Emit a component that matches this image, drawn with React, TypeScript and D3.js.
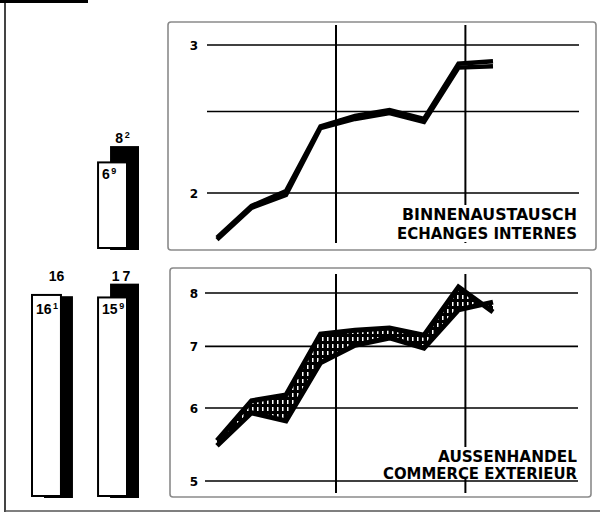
import * as d3 from "d3";
import React, { useRef, useEffect } from "react";

// quarters along the x axis (index), and where the year separators fall
const periods = [0, 1, 2, 3, 4, 5, 6, 7, 8];
const yearBreaks = [3.45, 7.2];

// Binnenaustausch / échanges internes (two close series)
const internalHigh = [1.77, 1.93, 2.01, 2.4, 2.47, 2.51, 2.45, 2.85, 2.87];
const internalLow = [1.76, 1.92, 1.99, 2.39, 2.45, 2.49, 2.43, 2.82, 2.83];
const internalTicks = [2, 2.5, 3];
const internalTickLabels = ["2", "", "3"];

// Aussenhandel / commerce extérieur (two series, hatched band)
const externalA = [5.53, 6.11, 6.2, 7.22, 7.29, 7.33, 7.2, 8.12, 7.63];
const externalB = [5.46, 5.93, 5.81, 6.72, 7.02, 7.15, 6.97, 7.67, 7.82];
const externalTicks = [5, 6, 7, 8];
const externalTickLabels = ["5", "6", "7", "8"];

// bar columns on the left
const barColumns = ["I", "II"];
const internalWhite = [null, 6.9];
const internalBlack = [null, 8.2];
const externalWhite = [16.1, 15.9];
const externalBlack = [16, 17];

const font = "'DejaVu Sans', sans-serif";
const barFont = "'Liberation Sans', Arial, sans-serif";

function App() {
    const ref = useRef<SVGSVGElement>(null);

    useEffect(() => {
        const svg = d3.select(ref.current);
        svg.selectAll("*").remove();

        const defs = svg.append("defs");
        const pat = defs.append("pattern")
            .attr("id", "hatch")
            .attr("patternUnits", "userSpaceOnUse")
            .attr("width", 5)
            .attr("height", 7);
        pat.append("rect").attr("width", 5).attr("height", 7).attr("fill", "#000");
        pat.append("rect").attr("x", 2).attr("y", 1).attr("width", 1.5).attr("height", 4).attr("fill", "#fff");

        // outer frame bits
        svg.append("line").attr("x1", 5).attr("x2", 5).attr("y1", 0).attr("y2", 512)
            .attr("stroke", "#444").attr("stroke-width", 2);
        svg.append("line").attr("x1", 5).attr("x2", 600).attr("y1", 511).attr("y2", 511)
            .attr("stroke", "#555").attr("stroke-width", 1.5);
        svg.append("line").attr("x1", 0).attr("x2", 88).attr("y1", 1.5).attr("y2", 1.5)
            .attr("stroke", "#000").attr("stroke-width", 3);

        const x = d3.scaleLinear().domain([0, 8]).range([217, 493]);

        const panels = [
            {
                box: [168, 22, 596, 250],
                y: d3.scaleLog().domain([2, 3]).range([193, 45]),
                ticks: internalTicks,
                tickLabels: internalTickLabels,
                grid: [207, 579],
                vlines: [25, 243],
                hi: internalHigh,
                lo: internalLow,
                fill: "#fff",
                width: 4.5,
                titles: [["BINNENAUSTAUSCH", 220, 175], ["ECHANGES INTERNES", 239, 180]],
                titleBg: [395, 205, 185, 37],
            },
            {
                box: [170, 268, 591, 497],
                y: d3.scaleLog().domain([5, 8]).range([481, 293]),
                ticks: externalTicks,
                tickLabels: externalTickLabels,
                grid: [205, 578],
                vlines: [274, 493],
                hi: externalA,
                lo: externalB,
                fill: "url(#hatch)",
                width: 5,
                titles: [["AUSSENHANDEL", 462, 139], ["COMMERCE EXTERIEUR", 478.5, 194]],
                titleBg: [380, 447, 200, 31.5],
            },
        ];

        panels.forEach(p => {
            const g = svg.append("g");
            const [x0, y0, x1, y1] = p.box;
            g.append("rect")
                .attr("x", x0).attr("y", y0)
                .attr("width", x1 - x0).attr("height", y1 - y0)
                .attr("rx", 3)
                .attr("fill", "#fff")
                .attr("stroke", "#8a8a8a")
                .attr("stroke-width", 1.6);

            g.selectAll(".grid")
                .data(p.ticks)
                .enter().append("line")
                .attr("x1", p.grid[0]).attr("x2", p.grid[1])
                .attr("y1", d => p.y(d)).attr("y2", d => p.y(d))
                .attr("stroke", "#000").attr("stroke-width", 1.6);

            g.selectAll(".tick")
                .data(p.ticks)
                .enter().append("text")
                .attr("x", 198)
                .attr("y", d => p.y(d) + 4.5)
                .attr("text-anchor", "end")
                .attr("font-family", font)
                .attr("font-weight", "bold")
                .attr("font-size", 12)
                .text((d, i) => p.tickLabels[i]);

            g.selectAll(".year")
                .data(yearBreaks)
                .enter().append("line")
                .attr("x1", d => x(d)).attr("x2", d => x(d))
                .attr("y1", p.vlines[0]).attr("y2", p.vlines[1])
                .attr("stroke", "#000").attr("stroke-width", 2);

            const [bx, by, bw, bh] = p.titleBg;
            g.append("rect").attr("x", bx).attr("y", by).attr("width", bw).attr("height", bh)
                .attr("fill", "#fff");

            p.titles.forEach(([t, yy, len]) => {
                g.append("text")
                    .attr("x", 577)
                    .attr("y", yy as number)
                    .attr("text-anchor", "end")
                    .attr("font-family", font)
                    .attr("font-weight", "bold")
                    .attr("font-size", 15)
                    .attr("textLength", len as number)
                    .attr("lengthAdjust", "spacingAndGlyphs")
                    .text(t as string);
            });

            const area = d3.area<number>()
                .x((_, i) => x(periods[i]))
                .y0((_, i) => p.y(p.lo[i]))
                .y1(d => p.y(d));
            g.append("path")
                .attr("d", area(p.hi))
                .attr("fill", p.fill);

            const line = d3.line<number>()
                .x((_, i) => x(periods[i]))
                .y(d => p.y(d));
            [p.hi, p.lo].forEach(s => {
                g.append("path")
                    .attr("d", line(s))
                    .attr("fill", "none")
                    .attr("stroke", "#000")
                    .attr("stroke-width", p.width)
                    .attr("stroke-linejoin", "miter")
                    .attr("stroke-miterlimit", 3)
                    .attr("stroke-linecap", "butt");
            });
        });

        // bars
        const col = d3.scaleBand().domain(barColumns).range([32, 139]).paddingInner(0.38);
        const unit = d3.scaleLinear().domain([0, 1]).range([0, 12.55]);
        const off = 12;

        const rows = [
            { base: 249, white: internalWhite, black: internalBlack },
            { base: 497, white: externalWhite, black: externalBlack },
        ];

        const label = (sel, v: number) => {
            const whole = Math.floor(v + 1e-9);
            const dec = Math.round((v - whole) * 10);
            sel.append("tspan").text(String(whole));
            if (dec > 0) {
                sel.append("tspan")
                    .attr("dy", -5)
                    .attr("dx", 1.5)
                    .attr("font-size", 9)
                    .text(String(dec));
            }
        };

        rows.forEach(r => {
            const g = svg.append("g");
            const w = col.bandwidth() - off;
            const items = barColumns.map((c, i) => ({ c, white: r.white[i], black: r.black[i] }))
                .filter(d => d.white != null);
            const blackTop = d3.min(items, d => r.base - unit(d.black));
            const whiteTop = d3.max(items, d => r.base - unit(d.white));

            items.forEach(d => {
                g.append("rect")
                    .attr("x", col(d.c) + off)
                    .attr("y", r.base - unit(d.black))
                    .attr("width", w)
                    .attr("height", unit(d.black) + 1)
                    .attr("fill", "#000");
                g.append("rect")
                    .attr("x", col(d.c))
                    .attr("y", r.base - unit(d.white))
                    .attr("width", w)
                    .attr("height", unit(d.white) - 1)
                    .attr("fill", "#fff")
                    .attr("stroke", "#000")
                    .attr("stroke-width", 2);

                const bl = g.append("text")
                    .attr("x", col(d.c) + off + w / 2 - 2)
                    .attr("y", blackTop - 3)
                    .attr("text-anchor", "middle")
                    .attr("font-family", barFont)
                    .attr("font-weight", "bold")
                    .attr("font-size", 14)
                    .attr("letter-spacing", d.black === 17 ? 3 : 0);
                label(bl, d.black);

                const wl = g.append("text")
                    .attr("x", col(d.c) + 4)
                    .attr("y", whiteTop + 17)
                    .attr("font-family", barFont)
                    .attr("font-weight", "bold")
                    .attr("font-size", 14);
                label(wl, d.white);
            });
        });
    }, []);

    return (
        <svg ref={ref} width={612} height={515}
            style={{ position: "absolute", left: 0, top: 0, background: "#fff", display: "block" }} />
    );
}

export default App;
